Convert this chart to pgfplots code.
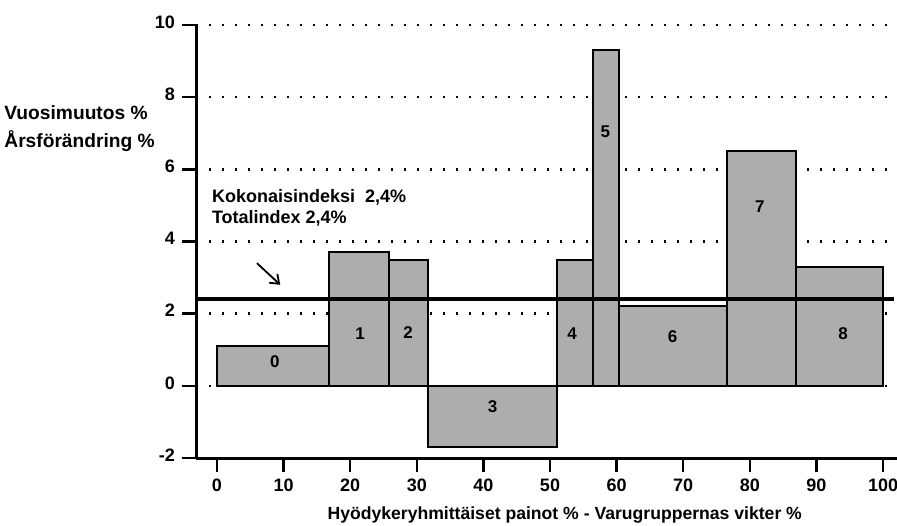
\documentclass[border=0pt]{standalone}
\usepackage{fontspec}
\setmainfont{Liberation Sans}
\usepackage{pgfplots}
\pgfplotsset{compat=1.18}
\usetikzlibrary{arrows.meta}
\begin{document}
\begin{tikzpicture}
\useasboundingbox (-98pt,-33.5pt) rectangle (350.5pt,229pt);
\begin{axis}[
  at={(0,0)}, anchor=south west,
  scale only axis, width=350.5pt, height=216.5pt,
  xmin=-3.15, xmax=102.1, ymin=-2, ymax=10,
  axis x line*=bottom, axis y line*=left,
  axis line style={line width=1.5pt},
  xtick={0,10,...,100}, xticklabels={0,10,20,30,40,50,60,70,80,90,100},
  ytick={-2,0,...,10}, yticklabels={-2,0,2,4,6,8,10},
  tick align=outside, major tick length=7pt,
  tick style={line width=1.2pt, black},
  ticklabel style={font=\fontsize{9}{10}\selectfont\bfseries},
  yticklabel style={yshift=1.5pt},
  ymajorgrids, grid style={line width=1.2pt, dash pattern=on 1.1pt off 5.4pt, black},
  clip=false,
]
% variable-width bars: x = left edge (cumulative weight %), y = annual change %
\addplot[ybar interval, fill=black!32, draw=black, line width=1pt] coordinates {
  (0,1.1) (16.8,3.7) (25.8,3.5) (31.7,-1.7) (51.0,3.5) (56.5,9.3)
  (60.4,2.2) (76.5,6.5) (87.0,3.3) (100.0,3.3)
};
% total index line
\addplot[line width=1.8pt, black] coordinates {(-3.15,2.4) (101.6,2.4)};
\draw[line width=0.9pt, -{Straight Barb[length=4pt,width=6pt]}] (axis cs:6,3.4) -- (axis cs:9.5,2.8);
\begin{scope}[every node/.style={font=\fontsize{8.5}{10}\selectfont\bfseries}]
\node at (axis cs:8.7,0.67) {0};
\node at (axis cs:21.5,1.46) {1};
\node at (axis cs:28.7,1.48) {2};
\node at (axis cs:41.4,-0.57) {3};
\node at (axis cs:53.3,1.46) {4};
\node at (axis cs:58.3,7.05) {5};
\node at (axis cs:68.4,1.37) {6};
\node at (axis cs:81.5,4.97) {7};
\node at (axis cs:94.0,1.46) {8};
\end{scope}
\begin{scope}[every node/.style={anchor=west, inner sep=0pt}]
\node[font=\fontsize{9}{10}\selectfont\bfseries] at (axis cs:-0.8,5.21) {Kokonaisindeksi\ \ 2,4\%};
\node[font=\fontsize{9}{10}\selectfont\bfseries] at (axis cs:-0.8,4.64) {Totalindex 2,4\%};
\node[font=\fontsize{9.6}{10}\selectfont\bfseries] at (axis cs:-3.15,7.56) [xshift=-96pt] {Vuosimuutos \%};
\node[font=\fontsize{9.6}{10}\selectfont\bfseries] at (axis cs:-3.15,6.77) [xshift=-96pt] {Årsförändring \%};
\end{scope}
\node[font=\fontsize{8.8}{10}\selectfont\bfseries] at (rel axis cs:0.526,0) [yshift=-28.5pt] {Hyödykeryhmittäiset painot \% - Varugruppernas vikter \%};
\end{axis}
\end{tikzpicture}
\end{document}
